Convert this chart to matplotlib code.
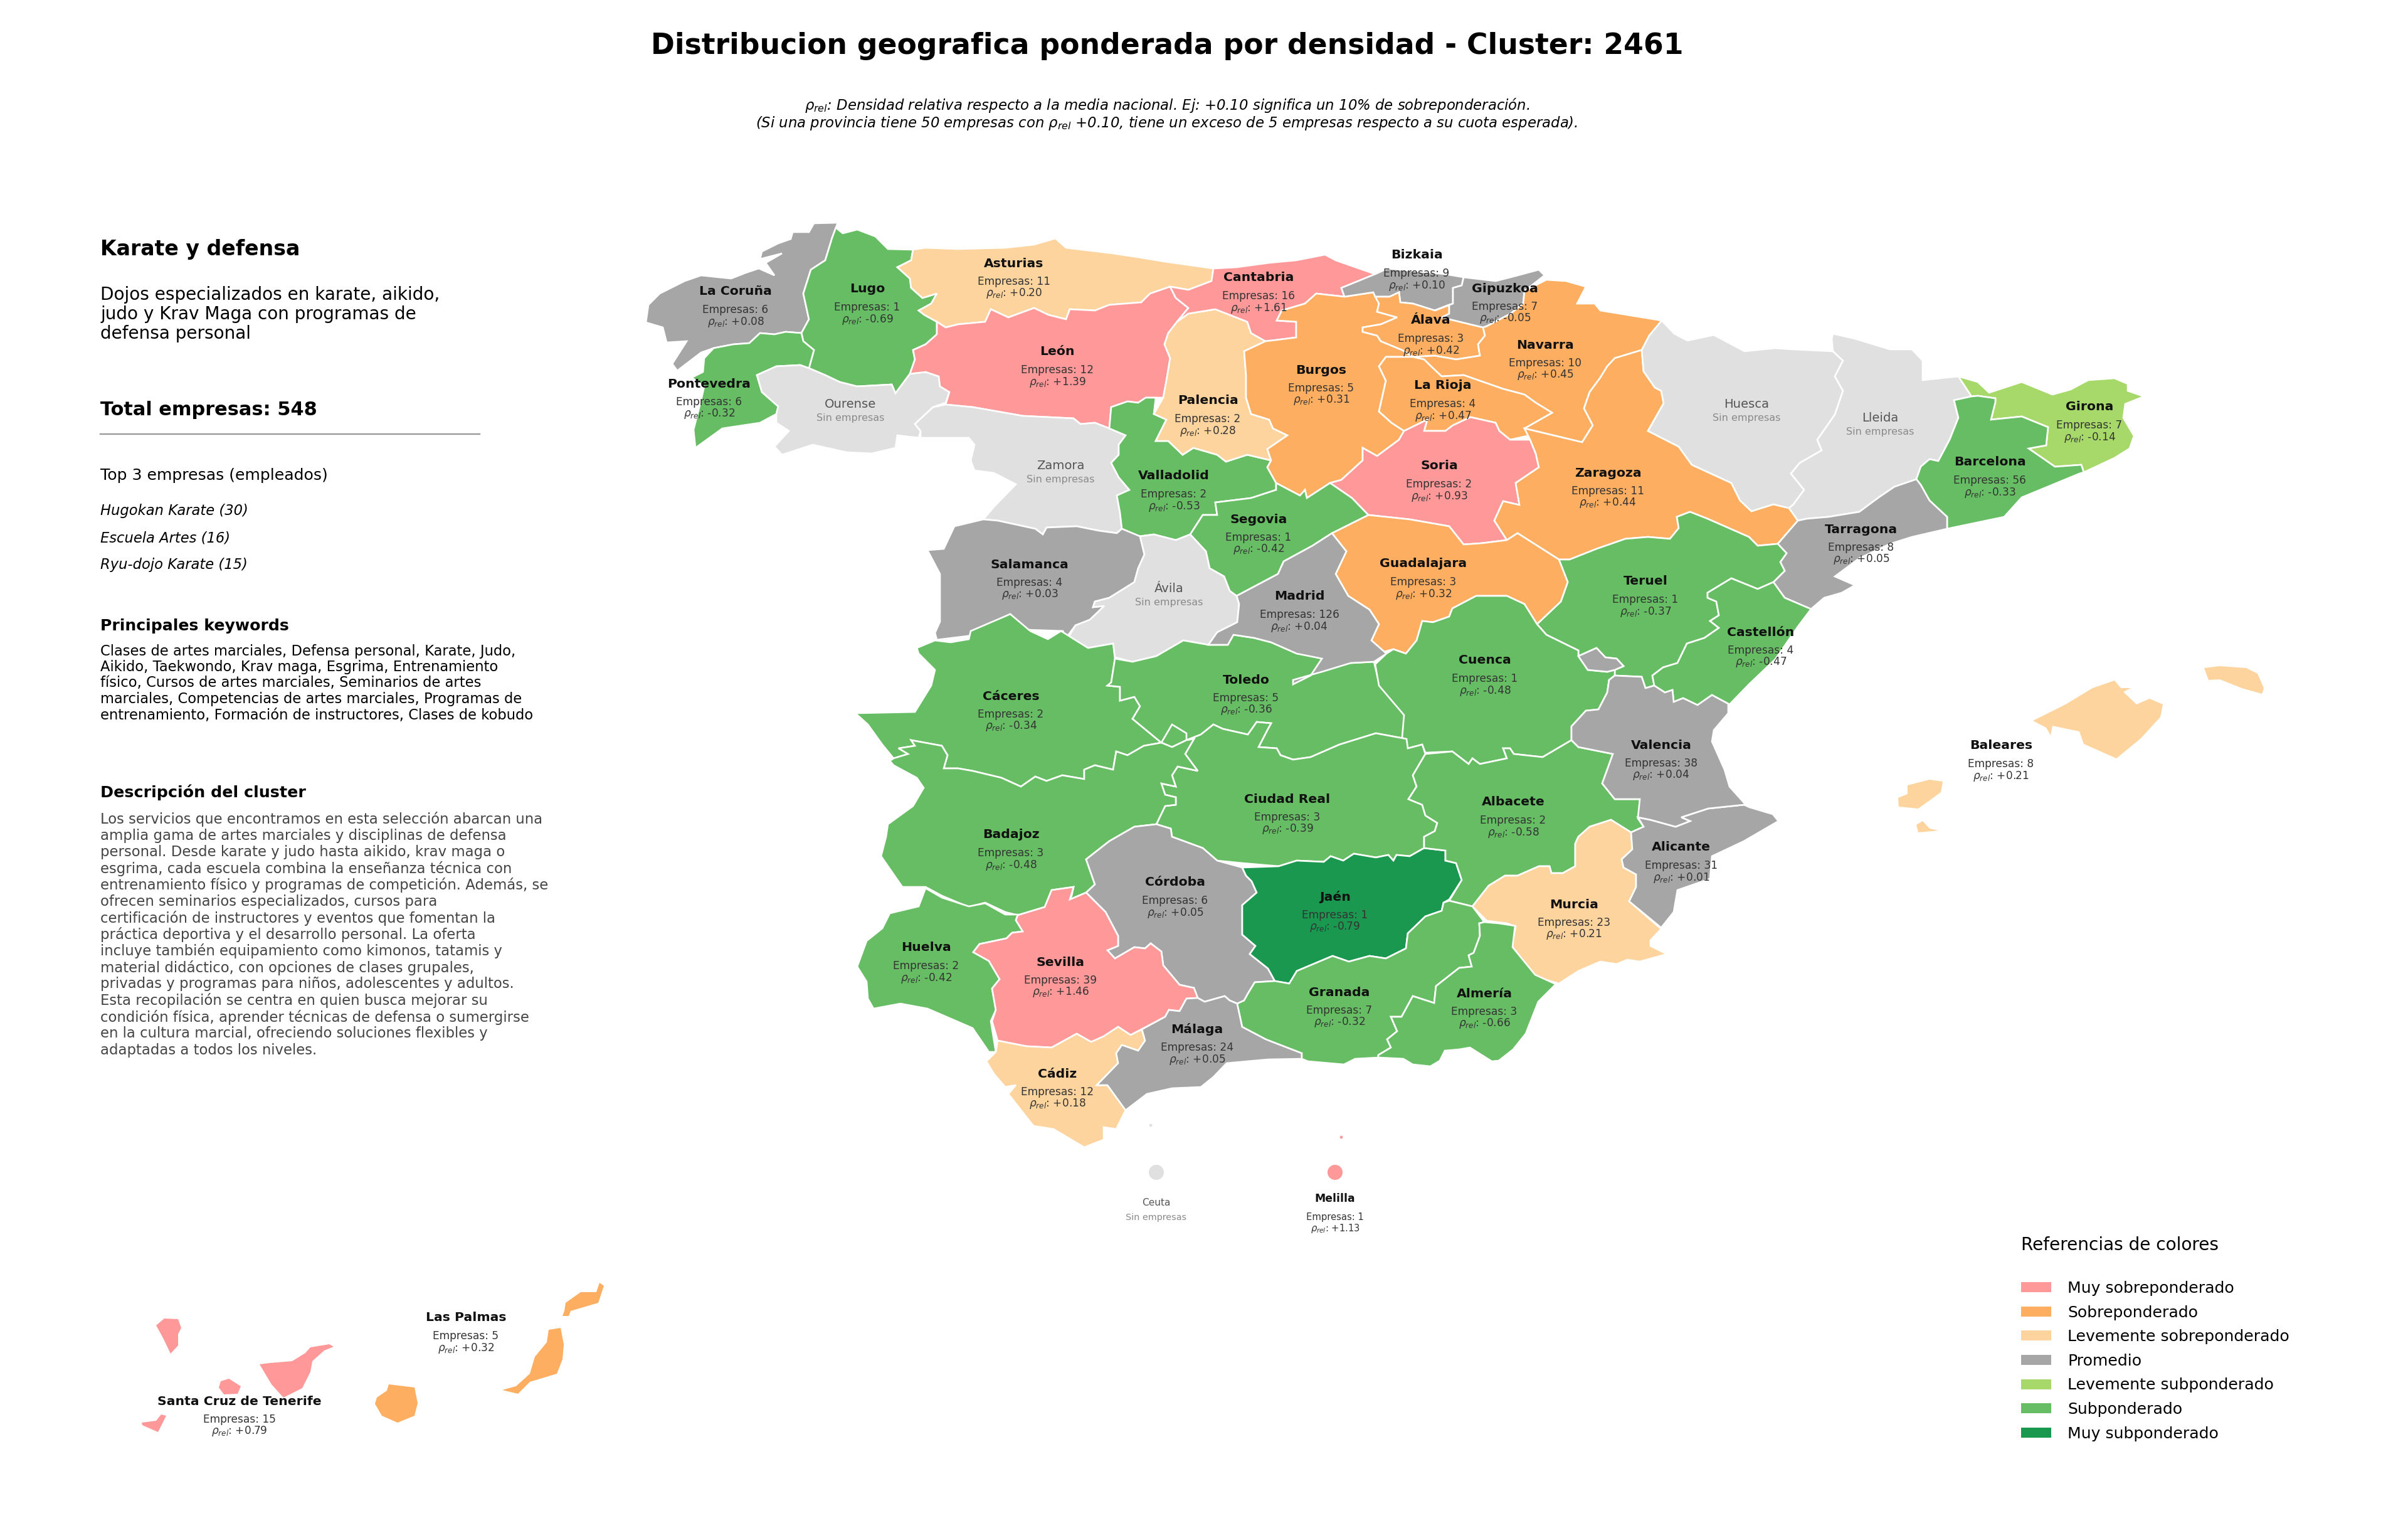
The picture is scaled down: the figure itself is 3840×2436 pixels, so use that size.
import matplotlib
matplotlib.use('Agg')
import matplotlib.pyplot as plt
from matplotlib.patches import Patch

# province outlines in its own pixel space
LA_CORUNA = [(1336,355),(1298,356),(1290,370),(1264,370),(1261,381),(1241,388),(1215,401),(1212,413),(1247,404),(1221,419),(1235,439),(1210,428),(1189,435),(1166,444),(1118,439),(1092,448),(1052,468),(1034,486),(1030,514),(1057,522),(1063,546),(1095,544),(1072,580),(1080,591),(1118,562),(1138,555),(1169,549),(1195,547),(1212,531),(1235,533),(1253,529),(1278,531),(1290,509),(1281,468),(1293,430),(1316,415),(1327,379)]
LUGO = [(1327,379),(1316,415),(1293,430),(1281,468),(1290,509),(1278,531),(1281,544),(1298,558),(1290,587),(1316,598),(1339,609),(1367,616),(1422,613),(1428,627),(1451,596),(1459,573),(1456,558),(1476,549),(1494,533),(1494,513),(1474,502),(1465,495),(1485,484),(1494,468),(1471,475),(1453,459),(1451,444),(1431,426),(1453,415),(1456,398),(1416,397),(1396,377),(1367,366),(1344,372),(1333,363)]
PONTEVEDRA = [(1138,555),(1169,549),(1195,547),(1212,531),(1235,533),(1253,529),(1278,531),(1281,544),(1298,558),(1290,587),(1276,582),(1238,584),(1207,598),(1215,625),(1241,648),(1238,660),(1212,674),(1152,683),(1109,714),(1106,685),(1118,638),(1123,616),(1103,602),(1121,593),(1123,571)]
OURENSE = [(1207,598),(1238,584),(1276,582),(1290,587),(1316,598),(1339,609),(1367,616),(1422,613),(1428,627),(1451,596),(1476,593),(1497,600),(1499,616),(1514,625),(1508,642),(1488,649),(1459,676),(1468,687),(1465,698),(1431,694),(1428,714),(1390,723),(1350,721),(1296,709),(1247,725),(1235,712),(1258,687),(1238,674),(1238,660),(1241,648),(1215,625)]
ASTURIAS = [(1456,398),(1476,395),(1528,397),(1603,395),(1649,390),(1683,380),(1700,395),(1775,404),(1815,410),(1857,417),(1935,428),(1932,448),(1895,462),(1866,457),(1834,468),(1820,482),(1769,486),(1746,495),(1706,493),(1700,509),(1672,502),(1649,491),(1608,506),(1580,493),(1571,513),(1528,517),(1508,522),(1494,513),(1474,502),(1465,495),(1485,484),(1494,468),(1471,475),(1453,459),(1451,444),(1431,426),(1453,415)]
LEON = [(1508,522),(1528,517),(1571,513),(1580,493),(1608,506),(1649,491),(1672,502),(1700,509),(1706,493),(1746,495),(1769,486),(1820,482),(1834,468),(1866,457),(1875,475),(1895,491),(1877,513),(1863,531),(1857,549),(1866,571),(1860,607),(1855,634),(1843,634),(1827,634),(1815,642),(1798,640),(1772,649),(1769,683),(1746,674),(1723,676),(1712,667),(1631,663),(1551,649),(1508,645),(1514,625),(1499,616),(1497,600),(1476,593),(1451,596),(1459,573),(1456,558),(1476,549),(1494,533),(1494,513)]
ZAMORA = [(1488,649),(1508,645),(1551,649),(1631,663),(1712,667),(1723,676),(1746,674),(1769,683),(1795,694),(1784,709),(1784,725),(1772,738),(1784,761),(1801,781),(1781,790),(1786,817),(1789,843),(1781,850),(1752,846),(1717,839),(1669,841),(1663,852),(1651,843),(1591,830),(1568,828),(1585,808),(1620,772),(1585,754),(1554,750),(1548,734),(1554,709),(1545,698),(1517,698),(1468,698),(1468,687),(1459,676)]
VALLADOLID = [(1772,649),(1798,640),(1815,642),(1827,634),(1843,634),(1840,660),(1860,669),(1843,703),(1863,703),(1886,725),(1903,714),(1941,725),(1955,736),(1989,725),(2027,734),(2021,745),(2035,770),(2035,781),(1995,794),(1938,801),(1941,821),(1918,821),(1898,852),(1875,861),(1840,852),(1817,855),(1789,843),(1786,817),(1781,790),(1801,781),(1784,761),(1772,738),(1784,725),(1784,709),(1795,694),(1769,683)]
PALENCIA = [(1895,500),(1938,493),(1966,504),(1989,513),(1995,531),(2018,544),(1984,560),(1987,598),(1987,634),(1995,660),(2024,669),(2030,683),(2053,694),(2021,716),(2027,734),(1989,725),(1955,736),(1941,725),(1903,714),(1886,725),(1863,703),(1843,703),(1860,669),(1840,660),(1855,634),(1860,607),(1866,571),(1857,549),(1863,531),(1877,513)]
CANTABRIA = [(1935,428),(1972,426),(2024,419),(2067,415),(2113,406),(2130,415),(2150,422),(2193,437),(2139,459),(2144,473),(2099,468),(2081,484),(2044,495),(2036,511),(2067,513),(2067,538),(2035,542),(2018,544),(1995,531),(1989,513),(1966,504),(1938,493),(1895,500),(1877,513),(1895,491),(1875,475),(1866,457),(1895,462),(1932,448)]
BURGOS = [(2018,544),(2035,542),(2067,538),(2067,513),(2036,511),(2044,495),(2081,484),(2099,468),(2144,473),(2190,466),(2199,484),(2196,497),(2228,506),(2202,517),(2173,522),(2173,529),(2196,535),(2202,544),(2236,558),(2253,569),(2210,569),(2199,584),(2210,607),(2199,656),(2219,674),(2239,687),(2231,701),(2196,727),(2173,714),(2173,734),(2139,765),(2121,770),(2084,794),(2081,781),(2073,790),(2035,770),(2021,745),(2027,734),(2021,716),(2053,694),(2030,683),(2024,669),(1995,660),(1987,634),(1987,598),(1984,560)]
BIZKAIA = [(2139,459),(2193,437),(2213,428),(2305,437),(2334,442),(2331,455),(2317,459),(2317,484),(2288,495),(2253,484),(2233,482),(2231,466),(2216,473),(2193,473),(2190,466),(2144,473)]
ALAVA = [(2193,473),(2216,473),(2231,466),(2233,482),(2253,484),(2288,495),(2311,486),(2311,500),(2299,506),(2365,522),(2368,535),(2357,549),(2360,567),(2322,573),(2288,567),(2253,569),(2236,558),(2202,544),(2196,535),(2173,529),(2173,522),(2202,517),(2228,506),(2196,497),(2199,484)]
GIPUZKOA = [(2334,442),(2385,448),(2409,442),(2454,430),(2463,439),(2431,464),(2429,484),(2409,500),(2371,520),(2365,522),(2299,506),(2311,500),(2311,486),(2288,495),(2317,484),(2317,459),(2331,455)]
NAVARRA = [(2431,464),(2466,446),(2497,448),(2529,457),(2515,484),(2543,484),(2552,495),(2650,511),(2630,535),(2618,558),(2575,571),(2563,584),(2552,602),(2535,625),(2526,651),(2540,678),(2523,705),(2477,694),(2431,683),(2475,658),(2449,642),(2431,629),(2397,620),(2334,598),(2299,600),(2282,584),(2271,573),(2253,569),(2288,567),(2322,573),(2360,567),(2357,549),(2368,535),(2365,522),(2371,520),(2409,500),(2429,484)]
LA_RIOJA = [(2210,569),(2253,569),(2271,573),(2282,584),(2299,600),(2334,598),(2397,620),(2431,629),(2449,642),(2475,658),(2431,683),(2440,694),(2408,701),(2391,687),(2385,674),(2345,665),(2317,678),(2305,687),(2271,687),(2276,669),(2239,687),(2219,674),(2199,656),(2210,607),(2199,584)]
SORIA = [(2239,687),(2276,669),(2271,687),(2305,687),(2317,678),(2345,665),(2385,674),(2391,687),(2408,701),(2440,701),(2449,723),(2454,745),(2417,770),(2423,805),(2397,799),(2383,830),(2403,861),(2363,866),(2334,868),(2311,839),(2248,828),(2182,821),(2156,794),(2121,770),(2139,765),(2173,734),(2173,714),(2196,727),(2231,701)]
ZARAGOZA = [(2618,558),(2621,592),(2639,618),(2649,623),(2653,643),(2628,687),(2677,712),(2698,741),(2761,770),(2775,798),(2793,815),(2828,804),(2853,810),(2867,830),(2835,867),(2803,870),(2789,856),(2723,827),(2695,816),(2674,824),(2677,842),(2663,859),(2628,856),(2592,859),(2546,875),(2503,892),(2486,892),(2420,850),(2403,861),(2383,830),(2397,799),(2423,805),(2417,770),(2454,745),(2449,723),(2440,701),(2431,683),(2477,694),(2523,705),(2540,678),(2526,651),(2535,625),(2552,602),(2563,584),(2575,571)]
HUESCA = [(2650,511),(2670,532),(2691,543),(2733,534),(2782,560),(2831,555),(2860,557),(2923,560),(2939,575),(2926,600),(2939,623),(2926,661),(2898,701),(2905,718),(2870,738),(2856,755),(2877,781),(2860,804),(2853,810),(2828,804),(2793,815),(2775,798),(2761,770),(2698,741),(2677,712),(2628,687),(2653,643),(2649,623),(2639,618),(2621,592),(2618,558),(2630,535)]
LLEIDA = [(2921,540),(2923,532),(2958,540),(3014,557),(3049,557),(3066,575),(3066,606),(3123,600),(3144,632),(3116,638),(3123,666),(3109,701),(3091,735),(3077,732),(3063,744),(3056,764),(3021,776),(2996,793),(2965,816),(2916,824),(2881,827),(2867,830),(2853,810),(2860,804),(2877,781),(2856,755),(2870,738),(2905,718),(2898,701),(2926,661),(2939,623),(2926,600),(2939,575),(2923,560)]
GIRONA = [(3123,600),(3154,609),(3172,626),(3224,609),(3273,629),(3302,621),(3330,606),(3372,603),(3393,612),(3393,623),(3419,632),(3389,644),(3386,666),(3403,695),(3396,715),(3372,730),(3323,753),(3319,741),(3277,744),(3235,715),(3263,710),(3266,681),(3224,664),(3175,669),(3182,641),(3182,635),(3154,631),(3144,632)]
BARCELONA = [(3116,638),(3144,632),(3154,631),(3182,635),(3182,641),(3175,669),(3224,664),(3266,681),(3263,710),(3235,715),(3277,744),(3319,741),(3323,753),(3316,755),(3224,793),(3196,824),(3105,843),(3105,824),(3077,798),(3063,773),(3056,764),(3063,744),(3077,732),(3091,735),(3109,701),(3123,666)]
TARRAGONA = [(3056,764),(3063,773),(3077,798),(3105,824),(3105,843),(3049,856),(3014,867),(2965,890),(2926,919),(2958,933),(2937,945),(2909,953),(2888,971),(2846,953),(2828,928),(2846,910),(2839,896),(2849,882),(2835,867),(2867,830),(2881,827),(2916,824),(2965,816),(2996,793),(3021,776)]
TERUEL = [(2486,892),(2503,892),(2546,875),(2592,859),(2628,856),(2663,859),(2677,842),(2674,824),(2695,816),(2723,827),(2789,856),(2803,870),(2835,867),(2849,882),(2839,896),(2846,910),(2828,928),(2803,939),(2761,922),(2751,928),(2723,945),(2723,953),(2737,959),(2741,981),(2727,990),(2741,1001),(2718,1017),(2690,1026),(2675,1057),(2652,1064),(2635,1077),(2638,1093),(2624,1097),(2618,1079),(2575,1077),(2575,1068),(2589,1062),(2578,1050),(2560,1048),(2546,1033),(2517,1046),(2517,1037),(2466,1012),(2451,995),(2489,959),(2500,928)]
CASTELLON = [(2751,928),(2761,922),(2803,939),(2828,928),(2846,953),(2888,971),(2867,999),(2831,1051),(2789,1091),(2758,1123),(2730,1108),(2707,1124),(2684,1113),(2669,1119),(2667,1100),(2655,1104),(2638,1093),(2635,1077),(2652,1064),(2675,1057),(2690,1026),(2718,1017),(2741,1001),(2727,990),(2741,981),(2737,959),(2723,953),(2723,945)]
GUADALAJARA = [(2182,821),(2248,828),(2311,839),(2334,868),(2363,866),(2403,861),(2420,850),(2486,892),(2500,928),(2489,959),(2451,995),(2431,963),(2403,950),(2354,950),(2316,970),(2311,983),(2285,992),(2268,990),(2259,1021),(2242,1042),(2222,1035),(2207,1039),(2187,1021),(2199,995),(2184,972),(2150,950),(2130,915),(2147,879),(2124,850)]
SEGOVIA = [(2035,770),(2073,790),(2081,781),(2084,794),(2121,770),(2156,794),(2182,821),(2124,850),(2093,870),(2047,895),(2038,915),(1972,950),(1961,942),(1952,919),(1929,906),(1923,879),(1898,852),(1918,821),(1941,821),(1938,801),(1995,794),(2035,781)]
MADRID = [(2124,850),(2147,879),(2130,915),(2150,950),(2184,972),(2199,995),(2187,1021),(2211,1042),(2191,1055),(2154,1057),(2108,1071),(2062,1084),(2062,1091),(2090,1077),(2108,1050),(2068,1042),(2027,1024),(2000,1017),(1967,1012),(1958,1028),(1927,1028),(1941,1008),(1973,992),(1976,963),(1972,950),(2038,915),(2047,895),(2093,870)]
SALAMANCA = [(1568,828),(1591,830),(1651,843),(1663,852),(1669,841),(1717,839),(1752,846),(1781,850),(1789,843),(1818,855),(1825,884),(1815,906),(1809,928),(1769,953),(1746,959),(1743,968),(1761,966),(1738,988),(1715,997),(1700,1017),(1695,1006),(1637,1004),(1611,979),(1574,997),(1551,1013),(1494,1020),(1491,1009),(1499,991),(1499,915),(1479,877),(1505,875),(1522,839)]
AVILA = [(1818,855),(1840,852),(1875,861),(1898,852),(1923,879),(1929,906),(1952,919),(1961,942),(1972,950),(1976,963),(1973,992),(1941,1008),(1927,1028),(1887,1021),(1844,1046),(1806,1055),(1778,1048),(1775,1026),(1735,1033),(1703,1017),(1715,997),(1738,988),(1761,966),(1743,968),(1746,959),(1769,953),(1809,928),(1815,906),(1825,884)]
CACERES = [(1462,1033),(1491,1021),(1516,1024),(1545,1019),(1548,1006),(1611,979),(1643,1006),(1671,1019),(1692,1006),(1735,1033),(1775,1026),(1778,1050),(1772,1088),(1766,1093),(1786,1095),(1786,1117),(1809,1111),(1818,1126),(1806,1146),(1852,1184),(1824,1189),(1798,1204),(1780,1198),(1775,1227),(1746,1220),(1729,1227),(1729,1242),(1694,1236),(1669,1245),(1651,1238),(1628,1254),(1597,1240),(1551,1229),(1528,1225),(1505,1225),(1511,1204),(1502,1189),(1453,1180),(1459,1189),(1433,1193),(1448,1202),(1425,1209),(1407,1187),(1384,1155),(1364,1137),(1459,1135),(1485,1093),(1491,1068),(1465,1042)]
TOLEDO = [(1778,1050),(1806,1055),(1844,1046),(1887,1021),(1927,1028),(1958,1028),(1967,1012),(2000,1017),(2027,1024),(2068,1042),(2108,1045),(2154,1057),(2191,1055),(2200,1093),(2240,1140),(2243,1178),(2194,1169),(2136,1187),(2090,1207),(2062,1211),(2042,1204),(2036,1193),(2007,1191),(2022,1162),(2027,1153),(2004,1151),(1990,1171),(1950,1162),(1935,1155),(1915,1171),(1892,1180),(1869,1191),(1852,1184),(1806,1146),(1818,1126),(1809,1111),(1786,1117),(1786,1095),(1766,1093),(1772,1088)]
TOLEDO_ENCLAVE = [(1852,1184),(1869,1155),(1892,1169),(1892,1180),(1869,1191)]
CUENCA = [(2211,1042),(2222,1035),(2242,1042),(2259,1021),(2268,990),(2285,992),(2311,983),(2316,970),(2354,950),(2403,950),(2431,963),(2451,995),(2466,1012),(2517,1037),(2517,1046),(2532,1068),(2563,1071),(2575,1068),(2575,1077),(2566,1084),(2563,1104),(2549,1131),(2529,1133),(2506,1158),(2506,1180),(2460,1207),(2414,1202),(2408,1193),(2397,1193),(2403,1209),(2360,1218),(2348,1209),(2342,1218),(2316,1198),(2273,1200),(2268,1187),(2245,1193),(2236,1175),(2239,1140),(2199,1093),(2193,1059)]
ADEMUZ = [(2517,1046),(2546,1033),(2560,1048),(2578,1050),(2589,1062),(2575,1068),(2563,1071),(2532,1068)]
CIUDAD_REAL = [(1904,1178),(1892,1180),(1915,1171),(1935,1155),(1950,1162),(1990,1171),(2004,1151),(2027,1153),(2022,1162),(2007,1191),(2036,1193),(2042,1204),(2062,1211),(2090,1207),(2136,1187),(2194,1169),(2243,1178),(2245,1193),(2268,1187),(2273,1202),(2253,1236),(2259,1254),(2246,1274),(2268,1283),(2273,1300),(2292,1312),(2288,1325),(2271,1334),(2271,1352),(2248,1365),(2227,1363),(2222,1372),(2214,1363),(2194,1367),(2159,1361),(2142,1372),(2122,1365),(2111,1374),(2068,1372),(2039,1381),(1981,1376),(1941,1372),(1918,1352),(1869,1334),(1867,1321),(1844,1314),(1858,1285),(1875,1283),(1875,1271),(1858,1267),(1852,1249),(1875,1254),(1869,1236),(1878,1222),(1910,1229),(1890,1202)]
BADAJOZ = [(1852,1184),(1824,1189),(1798,1204),(1780,1198),(1775,1227),(1746,1220),(1729,1227),(1729,1242),(1694,1236),(1669,1245),(1651,1238),(1628,1254),(1597,1240),(1551,1229),(1528,1225),(1505,1225),(1511,1204),(1502,1189),(1453,1180),(1459,1189),(1433,1193),(1448,1202),(1425,1209),(1419,1213),(1425,1220),(1462,1240),(1473,1256),(1456,1285),(1416,1314),(1413,1334),(1405,1365),(1439,1414),(1476,1414),(1502,1428),(1545,1446),(1571,1439),(1603,1454),(1623,1459),(1666,1446),(1677,1419),(1712,1414),(1709,1428),(1706,1434),(1732,1423),(1746,1410),(1732,1370),(1769,1341),(1809,1318),(1844,1314),(1858,1285),(1875,1283),(1875,1271),(1858,1267),(1852,1249),(1875,1254),(1869,1236),(1878,1222),(1910,1229),(1890,1202),(1904,1178),(1892,1180),(1869,1191)]
CORDOBA = [(1809,1318),(1844,1314),(1867,1321),(1869,1334),(1918,1352),(1941,1372),(1981,1383),(1987,1396),(1996,1405),(2004,1423),(1981,1443),(1981,1490),(2002,1508),(1993,1521),(2022,1544),(2033,1564),(2001,1566),(1990,1584),(1984,1595),(1973,1600),(1961,1595),(1953,1588),(1921,1597),(1910,1591),(1904,1575),(1881,1570),(1855,1539),(1852,1517),(1835,1504),(1826,1512),(1809,1510),(1778,1528),(1766,1515),(1783,1508),(1783,1492),(1763,1454),(1732,1423),(1746,1410),(1732,1370),(1769,1341)]
JAEN = [(1981,1383),(2039,1381),(2068,1372),(2111,1374),(2122,1365),(2142,1372),(2159,1361),(2194,1367),(2214,1363),(2222,1372),(2227,1363),(2248,1365),(2271,1352),(2305,1356),(2305,1372),(2322,1376),(2331,1403),(2311,1434),(2302,1439),(2299,1452),(2273,1461),(2245,1488),(2242,1512),(2210,1528),(2184,1524),(2151,1533),(2125,1524),(2068,1548),(2056,1568),(2033,1564),(2022,1544),(1993,1521),(2002,1508),(1981,1490),(1981,1443),(2004,1423),(1996,1405),(1987,1396)]
ALBACETE = [(2273,1202),(2316,1198),(2342,1218),(2348,1209),(2360,1218),(2403,1209),(2397,1193),(2408,1193),(2414,1202),(2460,1207),(2506,1180),(2517,1191),(2572,1202),(2555,1249),(2575,1274),(2615,1274),(2618,1303),(2612,1305),(2621,1318),(2601,1327),(2569,1307),(2535,1318),(2517,1334),(2512,1345),(2512,1381),(2492,1392),(2474,1392),(2471,1381),(2454,1381),(2420,1396),(2400,1396),(2374,1412),(2348,1445),(2311,1436),(2331,1403),(2322,1376),(2305,1372),(2305,1356),(2271,1352),(2271,1334),(2288,1325),(2292,1312),(2273,1300),(2268,1283),(2246,1274),(2259,1254),(2253,1236)]
MURCIA = [(2601,1327),(2569,1307),(2535,1318),(2517,1334),(2512,1345),(2512,1381),(2492,1392),(2474,1392),(2471,1381),(2454,1381),(2420,1396),(2400,1396),(2374,1412),(2348,1445),(2371,1468),(2403,1472),(2417,1477),(2411,1508),(2448,1557),(2486,1568),(2517,1548),(2552,1533),(2578,1537),(2595,1530),(2615,1533),(2658,1521),(2632,1508),(2632,1499),(2649,1481),(2598,1437),(2609,1414),(2609,1394),(2589,1383),(2586,1370),(2603,1354)]
ALICANTE = [(2601,1327),(2621,1318),(2612,1303),(2632,1307),(2672,1318),(2695,1309),(2681,1303),(2724,1289),(2781,1283),(2790,1287),(2827,1298),(2836,1309),(2781,1341),(2730,1365),(2727,1401),(2675,1419),(2669,1454),(2649,1479),(2598,1437),(2609,1414),(2609,1394),(2589,1383),(2586,1370),(2603,1354)]
VALENCIA = [(2566,1084),(2575,1077),(2618,1079),(2624,1097),(2638,1093),(2655,1104),(2667,1100),(2669,1119),(2684,1113),(2707,1124),(2730,1108),(2756,1122),(2756,1137),(2733,1164),(2730,1182),(2750,1227),(2758,1254),(2784,1283),(2781,1283),(2724,1289),(2681,1303),(2695,1309),(2672,1318),(2632,1307),(2612,1303),(2615,1274),(2575,1274),(2555,1249),(2572,1202),(2517,1191),(2506,1180),(2506,1158),(2529,1133),(2549,1131),(2563,1104)]
HUELVA = [(1476,1416),(1465,1445),(1419,1456),(1407,1480),(1382,1500),(1367,1541),(1382,1565),(1384,1592),(1393,1608),(1436,1600),(1479,1608),(1551,1639),(1577,1677),(1588,1677),(1580,1628),(1588,1610),(1582,1576),(1594,1561),(1577,1532),(1552,1518),(1562,1505),(1605,1496),(1614,1487),(1631,1485),(1620,1467),(1623,1458),(1603,1458),(1571,1440),(1545,1445),(1502,1431)]
SEVILLA = [(1623,1459),(1666,1446),(1677,1419),(1712,1414),(1706,1434),(1732,1423),(1763,1454),(1783,1492),(1783,1508),(1766,1515),(1778,1528),(1809,1510),(1826,1512),(1835,1504),(1852,1517),(1855,1539),(1881,1570),(1904,1575),(1910,1591),(1892,1592),(1881,1612),(1864,1610),(1858,1621),(1803,1650),(1783,1637),(1760,1654),(1740,1661),(1717,1648),(1677,1670),(1637,1668),(1591,1659),(1582,1628),(1588,1610),(1582,1576),(1594,1561),(1577,1532),(1552,1518),(1562,1505),(1605,1496),(1614,1487),(1631,1485),(1620,1467)]
CADIZ = [(1591,1659),(1637,1668),(1677,1670),(1717,1648),(1740,1661),(1760,1652),(1783,1637),(1803,1650),(1821,1641),(1826,1659),(1815,1675),(1789,1666),(1780,1679),(1783,1695),(1749,1730),(1766,1730),(1795,1770),(1780,1800),(1760,1797),(1760,1817),(1729,1829),(1680,1800),(1648,1795),(1608,1744),(1620,1730),(1603,1733),(1585,1712),(1573,1692),(1588,1677)]
MALAGA = [(1910,1591),(1921,1597),(1953,1588),(1961,1595),(1973,1600),(1981,1637),(2019,1657),(2076,1679),(2076,1688),(2022,1689),(1956,1695),(1935,1717),(1915,1733),(1869,1735),(1829,1744),(1795,1770),(1766,1730),(1749,1730),(1783,1695),(1780,1679),(1789,1666),(1815,1675),(1826,1659),(1821,1641),(1858,1621),(1864,1610),(1881,1612),(1892,1592)]
GRANADA = [(2033,1564),(2056,1568),(2068,1548),(2125,1524),(2151,1533),(2184,1524),(2210,1528),(2242,1512),(2245,1488),(2273,1461),(2299,1452),(2302,1439),(2311,1436),(2348,1445),(2367,1470),(2359,1472),(2360,1492),(2350,1519),(2342,1523),(2347,1541),(2327,1543),(2290,1572),(2287,1599),(2253,1588),(2235,1621),(2218,1621),(2228,1644),(2212,1657),(2218,1670),(2198,1682),(2198,1686),(2161,1688),(2143,1697),(2086,1692),(2076,1688),(2076,1679),(2019,1657),(1981,1637),(1973,1600),(1984,1595),(1990,1584),(2001,1566)]
ALMERIA = [(2367,1470),(2390,1472),(2416,1476),(2412,1510),(2448,1554),(2481,1569),(2453,1597),(2433,1648),(2413,1673),(2390,1691),(2379,1692),(2344,1670),(2327,1673),(2304,1675),(2296,1691),(2281,1700),(2253,1697),(2238,1688),(2198,1686),(2198,1682),(2218,1670),(2212,1657),(2228,1644),(2218,1621),(2235,1621),(2253,1588),(2287,1599),(2290,1572),(2327,1543),(2347,1541),(2342,1523),(2350,1519),(2360,1492),(2359,1472)]
MALLORCA = [(3242,1149),(3294,1123),(3337,1097),(3372,1085),(3382,1097),(3398,1097),(3386,1103),(3407,1123),(3428,1114),(3449,1123),(3445,1143),(3414,1177),(3375,1209),(3323,1186),(3316,1166),(3273,1157),(3270,1172),(3263,1160)]
MENORCA = [(3515,1065),(3540,1062),(3582,1065),(3600,1074),(3610,1097),(3607,1106),(3575,1097),(3540,1083),(3522,1084)]
IBIZA = [(3027,1272),(3042,1266),(3042,1252),(3077,1243),(3098,1246),(3095,1263),(3059,1289),(3028,1286)]
FORMENTERA = [(3056,1315),(3066,1309),(3077,1321),(3091,1324),(3059,1327)]
LA_PALMA = [(249,2113),(262,2102),(284,2103),(289,2117),(284,2127),(284,2145),(272,2158),(260,2133)]
TENERIFE = [(414,2175),(430,2173),(466,2170),(487,2157),(495,2148),(525,2143),(532,2147),(517,2153),(498,2170),(495,2187),(482,2213),(452,2228),(433,2207)]
LA_GOMERA = [(352,2202),(365,2198),(384,2210),(379,2222),(357,2223),(349,2212)]
EL_HIERRO = [(226,2268),(249,2265),(257,2255),(265,2257),(252,2283),(227,2272)]
GRAN_CANARIA = [(620,2207),(661,2212),(666,2237),(661,2257),(634,2268),(609,2257),(598,2238),(601,2228),(617,2217)]
FUERTEVENTURA = [(875,2120),(894,2117),(899,2143),(897,2167),(888,2190),(845,2203),(826,2222),(801,2216),(823,2210),(845,2190),(853,2163),(872,2140)]
LANZAROTE = [(897,2098),(907,2098),(910,2090),(954,2077),(963,2050),(956,2045),(951,2060),(926,2060),(902,2077),(900,2090)]

provinces = ['La Coruña', 'Lugo', 'Pontevedra', 'Ourense', 'Asturias', 'León', 'Zamora', 'Valladolid',
             'Palencia', 'Cantabria', 'Burgos', 'Bizkaia', 'Álava', 'Gipuzkoa', 'Navarra', 'La Rioja',
             'Soria', 'Zaragoza', 'Huesca', 'Lleida', 'Girona', 'Barcelona', 'Tarragona', 'Teruel',
             'Castellón', 'Guadalajara', 'Segovia', 'Salamanca', 'Ávila', 'Cáceres', 'Toledo', 'Madrid',
             'Cuenca', 'Ciudad Real', 'Badajoz', 'Córdoba', 'Jaén', 'Albacete', 'Murcia', 'Alicante',
             'Valencia', 'Huelva', 'Sevilla', 'Cádiz', 'Málaga', 'Granada', 'Almería', 'Baleares',
             'Santa Cruz de Tenerife', 'Las Palmas', 'Ceuta', 'Melilla']
empresas = [6, 1, 6, None, 11, 12, None, 2,
            2, 16, 5, 9, 3, 7, 10, 4,
            2, 11, None, None, 7, 56, 8, 1,
            4, 3, 1, 4, None, 2, 5, 126,
            1, 3, 3, 6, 1, 2, 23, 31,
            38, 2, 39, 12, 24, 7, 3, 8,
            15, 5, None, 1]
rho_rel = [0.08, -0.69, -0.32, None, 0.20, 1.39, None, -0.53,
           0.28, 1.61, 0.31, 0.10, 0.42, -0.05, 0.45, 0.47,
           0.93, 0.44, None, None, -0.14, -0.33, 0.05, -0.37,
           -0.47, 0.32, -0.42, 0.03, None, -0.34, -0.36, 0.04,
           -0.48, -0.39, -0.48, 0.05, -0.79, -0.58, 0.21, 0.01,
           0.04, -0.42, 1.46, 0.18, 0.05, -0.32, -0.66, 0.21,
           0.79, 0.32, None, 1.13]
label_x = [1173, 1383, 1131, 1356, 1617, 1686, 1691, 1872,
           1926, 2007, 2107, 2259, 2282, 2400, 2464, 2301,
           2295, 2564, 2785, 2998, 3332, 3173, 2968, 2624,
           2808, 2270, 2007, 1642, 1864, 1612, 1987, 2072,
           2368, 2053, 1612, 1874, 2129, 2413, 2510, 2681,
           2649, 1477, 1691, 1686, 1909, 2136, 2367, 3191,
           382, 743, 1844, 2129]
label_y = [465, 461, 612, 644, 420, 561, 742, 759,
           639, 443, 590, 407, 511, 460, 550, 615,
           743, 754, 644, 666, 649, 737, 844, 927,
           1008, 899, 828, 900, 938, 1110, 1084, 951,
           1053, 1274, 1331, 1407, 1430, 1279, 1442, 1351,
           1188, 1511, 1534, 1712, 1641, 1582, 1584, 1189,
           2234, 2101, 1918, 1911]

outlines = {
    'La Coruña': [LA_CORUNA], 'Lugo': [LUGO], 'Pontevedra': [PONTEVEDRA], 'Ourense': [OURENSE],
    'Asturias': [ASTURIAS], 'León': [LEON], 'Zamora': [ZAMORA], 'Valladolid': [VALLADOLID],
    'Palencia': [PALENCIA], 'Cantabria': [CANTABRIA], 'Burgos': [BURGOS], 'Bizkaia': [BIZKAIA],
    'Álava': [ALAVA], 'Gipuzkoa': [GIPUZKOA], 'Navarra': [NAVARRA], 'La Rioja': [LA_RIOJA],
    'Soria': [SORIA], 'Zaragoza': [ZARAGOZA], 'Huesca': [HUESCA], 'Lleida': [LLEIDA],
    'Girona': [GIRONA], 'Barcelona': [BARCELONA], 'Tarragona': [TARRAGONA], 'Teruel': [TERUEL],
    'Castellón': [CASTELLON], 'Guadalajara': [GUADALAJARA], 'Segovia': [SEGOVIA],
    'Salamanca': [SALAMANCA], 'Ávila': [AVILA], 'Cáceres': [CACERES], 'Toledo': [TOLEDO, TOLEDO_ENCLAVE],
    'Madrid': [MADRID], 'Cuenca': [CUENCA], 'Ciudad Real': [CIUDAD_REAL], 'Badajoz': [BADAJOZ],
    'Córdoba': [CORDOBA], 'Jaén': [JAEN], 'Albacete': [ALBACETE], 'Murcia': [MURCIA],
    'Alicante': [ALICANTE], 'Valencia': [VALENCIA, ADEMUZ], 'Huelva': [HUELVA], 'Sevilla': [SEVILLA],
    'Cádiz': [CADIZ], 'Málaga': [MALAGA], 'Granada': [GRANADA], 'Almería': [ALMERIA],
    'Baleares': [MALLORCA, MENORCA, IBIZA, FORMENTERA],
    'Santa Cruz de Tenerife': [LA_PALMA, TENERIFE, LA_GOMERA, EL_HIERRO],
    'Las Palmas': [GRAN_CANARIA, FUERTEVENTURA, LANZAROTE],
}
# the two cities are drawn as dots, since their real outline is a speck
city_x = [1844, 2129]
city_y = [1869, 1869]

levels = ['Muy sobreponderado', 'Sobreponderado', 'Levemente sobreponderado', 'Promedio',
          'Levemente subponderado', 'Subponderado', 'Muy subponderado']
level_colors = ['#ff9999', '#fdae61', '#fdd49e', '#a6a6a6', '#a6d96a', '#66bd63', '#1a9850']
no_data_color = '#e0e0e0'

top3 = ['Hugokan Karate (30)', 'Escuela Artes (16)', 'Ryu-dojo Karate (15)']
top3_y = [814, 858, 900]
tagline = ['Dojos especializados en karate, aikido,', 'judo y Krav Maga con programas de', 'defensa personal']
keywords = ['Clases de artes marciales, Defensa personal, Karate, Judo,',
            'Aikido, Taekwondo, Krav maga, Esgrima, Entrenamiento',
            'físico, Cursos de artes marciales, Seminarios de artes',
            'marciales, Competencias de artes marciales, Programas de',
            'entrenamiento, Formación de instructores, Clases de kobudo']
description = ['Los servicios que encontramos en esta selección abarcan una',
               'amplia gama de artes marciales y disciplinas de defensa',
               'personal. Desde karate y judo hasta aikido, krav maga o',
               'esgrima, cada escuela combina la enseñanza técnica con',
               'entrenamiento físico y programas de competición. Además, se',
               'ofrecen seminarios especializados, cursos para',
               'certificación de instructores y eventos que fomentan la',
               'práctica deportiva y el desarrollo personal. La oferta',
               'incluye también equipamiento como kimonos, tatamis y',
               'material didáctico, con opciones de clases grupales,',
               'privadas y programas para niños, adolescentes y adultos.',
               'Esta recopilación se centra en quien busca mejorar su',
               'condición física, aprender técnicas de defensa o sumergirse',
               'en la cultura marcial, ofreciendo soluciones flexibles y',
               'adaptadas a todos los niveles.']


def level_color(rho):
    if rho is None:
        return no_data_color
    if rho >= 0.5:
        return level_colors[0]
    if rho > 0.3:
        return level_colors[1]
    if rho > 0.1:
        return level_colors[2]
    if rho >= -0.1:
        return level_colors[3]
    if rho > -0.3:
        return level_colors[4]
    if rho > -0.7:
        return level_colors[5]
    return level_colors[6]


fig = plt.figure(figsize=(16, 10.15), dpi=240)
ax = fig.add_axes([0, 0, 1, 1])
ax.set_xlim(0, 3840)
ax.set_ylim(2436, 0)
ax.axis('off')

for i, name in enumerate(provinces):
    color = level_color(rho_rel[i])
    if name in ('Ceuta', 'Melilla'):
        continue
    edge = 0.8 if name not in ('Baleares', 'Santa Cruz de Tenerife', 'Las Palmas') else 0.0
    for ring in outlines[name]:
        ax.fill([p[0] for p in ring], [p[1] for p in ring], facecolor=color, edgecolor='white', linewidth=edge,
                zorder=2)

ax.scatter(city_x, city_y, s=52, c=[no_data_color, level_colors[0]], linewidths=0, zorder=2)
ax.scatter([1835, 2139], [1794, 1813], s=2, c=[no_data_color, level_colors[0]], linewidths=0, zorder=2)

for i, name in enumerate(provinces):
    x, y = label_x[i], label_y[i]
    small = name in ('Ceuta', 'Melilla')
    if empresas[i] is None:
        ax.text(x, y, name, ha='center', va='center', fontsize=4.6 if small else 5.9, color='#555555', zorder=5)
        ax.text(x, y + 23, 'Sin empresas', ha='center', va='center', fontsize=4.3 if small else 4.8,
                color='#8a8a8a', zorder=5)
    else:
        ax.text(x, y, name, ha='center', va='center', fontsize=5.2 if small else 6.1, fontweight='bold',
                color='#111111', zorder=5)
        ax.text(x, y + 29, f'Empresas: {empresas[i]}', ha='center', va='center', fontsize=4.45 if small else 5.1,
                color='#333333', zorder=5)
        ax.text(x, y + 48, f'$\\rho_{{rel}}$: {rho_rel[i]:+.2f}', ha='center', va='center',
                fontsize=4.45 if small else 5.1, color='#333333', zorder=5)

# header
ax.text(1861, 73, 'Distribucion geografica ponderada por densidad - Cluster: 2461', ha='center', va='center',
        fontsize=13.7, fontweight='bold')
ax.text(1861, 168, '$\\rho_{rel}$: Densidad relativa respecto a la media nacional. Ej: +0.10 significa un 10% de sobreponderación.',
        ha='center', va='center', fontsize=6.82, style='italic')
ax.text(1861, 197, '(Si una provincia tiene 50 empresas con $\\rho_{rel}$ +0.10, tiene un exceso de 5 empresas respecto a su cuota esperada).',
        ha='center', va='center', fontsize=6.82, style='italic')

# left panel
ax.text(160, 397, 'Karate y defensa', va='center', fontsize=9.95, fontweight='bold')
for n, line in enumerate(tagline):
    ax.text(160, 470 + n * 31, line, va='center', fontsize=8.35)
ax.text(160, 654, 'Total empresas: 548', va='center', fontsize=9.1, fontweight='bold')
ax.plot([160, 765], [692, 692], color='#999999', linewidth=0.7)
ax.text(160, 758, 'Top 3 empresas (empleados)', va='center', fontsize=7.55)
for line, y in zip(top3, top3_y):
    ax.text(160, y, line, va='center', fontsize=6.8, style='italic')
ax.text(160, 998, 'Principales keywords', va='center', fontsize=7.55, fontweight='bold')
for n, line in enumerate(keywords):
    ax.text(160, 1038 + n * 25.5, line, va='center', fontsize=6.8)
ax.text(160, 1263, 'Descripción del cluster', va='center', fontsize=7.6, fontweight='bold')
for n, line in enumerate(description):
    ax.text(160, 1306 + n * 26.3, line, va='center', fontsize=6.84, color='#444444')

# legend
ax.text(3240 - 17, 1985, 'Referencias de colores', va='center', fontsize=8.4)
handles = [Patch(facecolor=c, edgecolor='none', label=lab) for c, lab in zip(level_colors, levels)]
ax.legend(handles=handles, loc='upper left', bbox_to_anchor=(3223 / 3840, 1 - 2042 / 2436), frameon=False,
          fontsize=7.55, labelspacing=0.58, handlelength=1.9, handleheight=0.6, handletextpad=1.05, borderpad=0,
          borderaxespad=0)

fig.savefig('out.png', dpi=240, facecolor='white')
